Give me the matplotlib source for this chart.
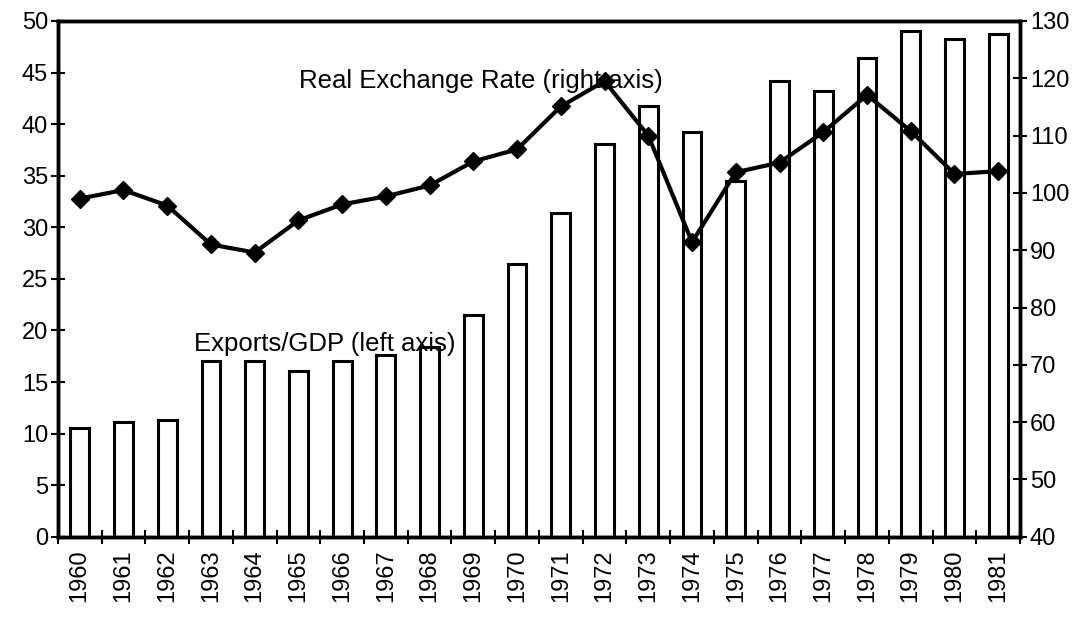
import matplotlib
matplotlib.use("Agg")
import matplotlib.pyplot as plt
import numpy as np

years = [str(y) for y in range(1960, 1982)]
exports_gdp = [10.5, 11.1, 11.3, 17.0, 17.0, 16.1, 17.0, 17.6, 18.4, 21.5, 26.4,
               31.4, 38.1, 41.8, 39.2, 34.5, 44.2, 43.2, 46.4, 49.0, 48.3, 48.7]
real_exch = [99.0, 100.5, 97.8, 91.0, 89.6, 95.2, 98.0, 99.4, 101.3, 105.5, 107.6,
             115.1, 119.5, 110.0, 91.4, 103.6, 105.3, 110.6, 117.1, 110.8, 103.3, 103.8]
left_ticks = list(range(0, 51, 5))
right_ticks = list(range(40, 131, 10))

plt.rcParams['font.family'] = ['Liberation Sans', 'DejaVu Sans']

fig = plt.figure(figsize=(10.91, 6.17), dpi=100)
ax = fig.add_axes([0.053, 0.13, 0.882, 0.836])
x = np.arange(len(years))
ax.bar(x, exports_gdp, width=0.43, facecolor='white', edgecolor='black', linewidth=2.2, zorder=2)
ax.set_xlim(-0.5, len(years) - 0.5)
ax.set_ylim(0, 50)
ax.set_yticks(left_ticks)
ax.tick_params(axis='y', direction='inout', length=10, width=1.5, labelsize=17, pad=2)
ax.set_xticks(np.arange(-0.5, len(years), 1.0))
ax.set_xticklabels([])
ax.set_xticks(x, minor=True)
ax.set_xticklabels(years, minor=True, rotation=90, fontsize=17)
ax.tick_params(axis='x', which='major', direction='inout', length=10, width=1.5)
ax.tick_params(axis='x', which='minor', length=0, pad=9)
for s in ax.spines.values():
    s.set_linewidth(2.5)

ax2 = ax.twinx()
ax2.plot(x, real_exch, color='black', linewidth=3.0, marker='D', markersize=9.5, zorder=3)
ax2.set_ylim(40, 130)
ax2.set_yticks(right_ticks)
ax2.tick_params(axis='y', direction='inout', length=10, width=1.5, labelsize=17, pad=2)
for s in ax2.spines.values():
    s.set_linewidth(2.5)

ax2.text(5.01, 119.6, 'Real Exchange Rate (right axis)', fontsize=18.5, va='center', ha='left', zorder=1)
ax2.text(2.61, 73.6, 'Exports/GDP (left axis)', fontsize=18.5, va='center', ha='left', zorder=5)

fig.savefig('out.png', dpi=100)
